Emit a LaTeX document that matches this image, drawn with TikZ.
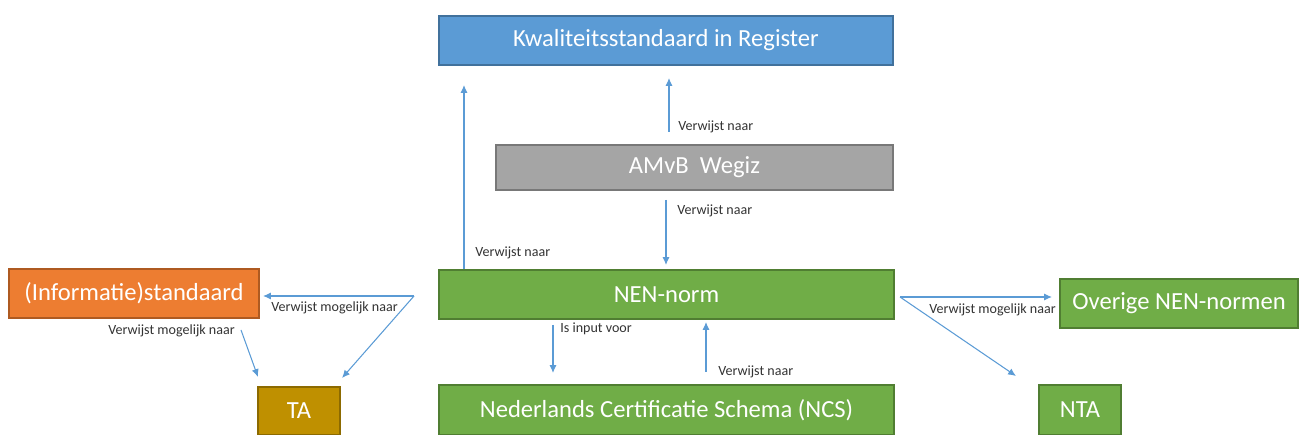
\documentclass[tikz,border=0pt]{standalone}
\usepackage{fontspec}
\setmainfont{Carlito}
\usetikzlibrary{arrows.meta}
\definecolor{kblue}{HTML}{5B9BD5}
\definecolor{kblueline}{HTML}{41719C}
\definecolor{kgray}{HTML}{A5A5A5}
\definecolor{kgrayline}{HTML}{787878}
\definecolor{kgreen}{HTML}{70AD47}
\definecolor{kgreenline}{HTML}{507E32}
\definecolor{korange}{HTML}{ED7D31}
\definecolor{korangeline}{HTML}{AE5A21}
\definecolor{kgold}{HTML}{BF9000}
\definecolor{kgoldline}{HTML}{8C6A00}
\tikzset{>={Latex[length=4.5pt,width=4pt]}}

\begin{document}
\begin{tikzpicture}[x=0.02cm, y=-0.02cm,
	box/.style={draw, line width=0.8pt, text=white, inner sep=0pt, font=\fontsize{14}{16}\selectfont},
	link/.style={->, draw=kblue, line width=0.6pt},
	lab/.style={anchor=west, inner sep=0pt, text=black!80, font=\fontsize{8}{9.6}\selectfont}]
		\useasboundingbox (0,0) rectangle (1299,435);
		\node[box, fill=kblue, draw=kblueline, minimum width=9.08cm, minimum height=0.98cm] (kwal) at (666,40.5) {Kwaliteitsstandaard in Register};
		\node[box, fill=kgray, draw=kgrayline, minimum width=7.94cm, minimum height=0.9cm] (amvb) at (694.5,167.5) {AMvB\ \ Wegiz};
		\node[box, fill=kgreen, draw=kgreenline, minimum width=9.1cm, minimum height=0.98cm] (nen) at (666.5,294.5) {NEN-norm};
		\node[box, fill=kgreen, draw=kgreenline, minimum width=9.1cm, minimum height=1cm] (ncs) at (666.5,410) {Nederlands Certificatie Schema (NCS)};
		\node[box, fill=korange, draw=korangeline, minimum width=5cm, minimum height=0.98cm] (info) at (134,293.5) {(Informatie)standaard};
		\node[box, fill=kgold, draw=kgoldline, minimum width=1.64cm, minimum height=0.96cm] (ta) at (299,411) {TA};
		\node[box, fill=kgreen, draw=kgreenline, minimum width=4.76cm, minimum height=0.98cm] (overig) at (1179,303.5) {Overige NEN-normen};
		\node[box, fill=kgreen, draw=kgreenline, minimum width=1.64cm, minimum height=1cm] (nta) at (1080,410) {NTA};

		\coordinate (k1) at (464,85);
		\coordinate (a2) at (669,132);
		\coordinate (k2) at (669,78);
		\coordinate (a3) at (666,200);
		\coordinate (k3) at (666,265);
		\coordinate (a4) at (553,325);
		\coordinate (k4) at (553,373);
		\coordinate (a5) at (706,372);
		\coordinate (k5) at (706,322);
		\coordinate (fork1) at (414,296);
		\coordinate (k6) at (263,296);
		\coordinate (k7) at (342,378);
		\coordinate (a8) at (241,330);
		\coordinate (k8) at (258,377);
		\coordinate (fork2) at (900,297);
		\coordinate (k9) at (1052,297);
		\coordinate (k10) at (1016,376);

		\draw[link] (nen.north -| k1) -- (k1);
		\draw[link] (a2) -- (k2);
		\draw[link] (a3) -- (k3);
		\draw[link] (a4) -- (k4);
		\draw[link] (a5) -- (k5);
		\draw[link] (fork1) -- (k6);
		\draw[link] (fork1) -- (k7);
		\draw[link] (a8) -- (k8);
		\draw[link] (fork2) -- (k9);
		\draw[link] (fork2) -- (k10);

		\node[lab] (l1) at (475,253) {Verwijst naar};
		\node[lab] (l2) at (678,127) {Verwijst naar};
		\node[lab] (l3) at (677,211) {Verwijst naar};
		\node[lab] (l4) at (560,329) {Is input voor};
		\node[lab] (l5) at (718,372) {Verwijst naar};
		\node[lab] (l6) at (271,308) {Verwijst mogelijk naar};
		\node[lab] (l7) at (108,331) {Verwijst mogelijk naar};
		\node[lab] (l8) at (929,310) {Verwijst mogelijk naar};
	\end{tikzpicture}
\end{document}
